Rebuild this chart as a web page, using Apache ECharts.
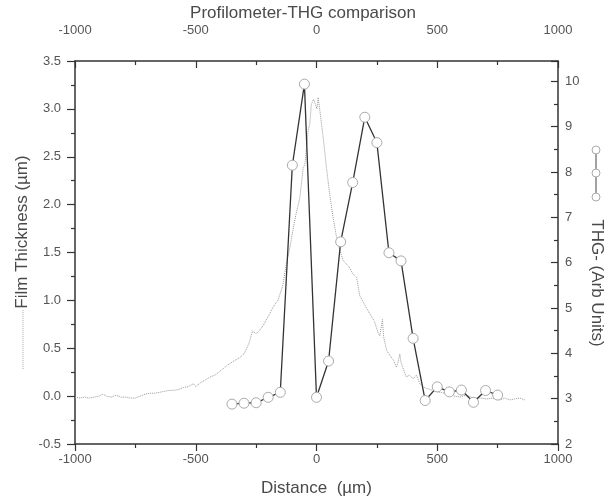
<!DOCTYPE html>
<html>
<head>
<meta charset="utf-8">
<script src="https://cdn.jsdelivr.net/npm/echarts@6/dist/echarts.min.js"></script>
<style>
html,body{margin:0;padding:0;background:#fff;}
#chart{width:606px;height:502px;}
</style>
</head>
<body>
<div id="chart"></div>
<script>
// Profilometer trace (left axis, µm) vs distance (µm)
const profileDistance = [
  -1000,-980,-960,-940,-920,-900,-885,-870,-850,-830,-810,-790,-770,-750,-730,-710,-690,-670,-650,-630,
  -610,-590,-570,-550,-530,-510,-500,-480,-460,-440,-420,-400,-380,-360,-340,-320,-300,-280,-265,-250,
  -235,-220,-200,-180,-160,-140,-125,-110,-98,-85,-69,-55,-48,-35,-28,-21,-12,-5,2,7,
  12,21,30,41,55,69,83,97,110,123,135,150,166,179,190,207,221,240,255,262,
  270,273,278,290,305,320,331,338,345,350,360,372,385,400,414,428,440,455,470,490,
  511,530,550,570,594,620,650,680,704,730,760,780,801,820,842,863
];
const profileThickness = [
  -0.01,-0.02,-0.01,-0.02,-0.01,0.00,0.02,0.00,-0.01,0.01,-0.01,-0.01,-0.02,-0.02,0.00,0.02,0.03,0.03,0.04,0.05,
  0.06,0.06,0.07,0.09,0.10,0.13,0.10,0.14,0.17,0.20,0.22,0.26,0.30,0.34,0.37,0.40,0.44,0.55,0.68,0.65,
  0.69,0.74,0.83,0.93,1.00,1.15,1.38,1.55,1.73,1.90,2.07,2.39,2.42,2.77,2.84,3.05,3.10,3.08,3.00,3.12,
  3.02,2.84,2.65,2.39,2.10,1.86,1.66,1.52,1.42,1.38,1.35,1.28,1.24,1.05,1.00,0.92,0.86,0.78,0.66,0.63,
  0.75,0.80,0.62,0.48,0.42,0.37,0.30,0.36,0.44,0.35,0.28,0.20,0.22,0.18,0.22,0.13,0.10,0.08,0.07,0.05,
  0.04,0.03,0.02,0.00,-0.01,0.01,-0.02,-0.02,-0.03,-0.02,-0.04,-0.02,-0.04,-0.03,-0.02,-0.04
];
// THG signal (right axis, arb units)
const thgDistance = [-350,-300,-250,-200,-150,-100,-50,0,50,100,150,200,250,300,350,400,450,500,550,600,650,700,750];
const thgSignal   = [2.88,2.90,2.91,3.03,3.14,8.15,9.94,3.03,3.83,6.46,7.77,9.21,8.65,6.22,6.04,4.33,2.96,3.26,3.15,3.19,2.92,3.18,3.08];

const titleText = 'Profilometer-THG comparison';
const xName = 'Distance  (\u00b5m)';
const yLeftName = 'Film Thickness (\u00b5m)';
const yRightName = 'THG- (Arb Units)';

const FONT = 'Liberation Sans, Arial, Helvetica, sans-serif';
const AX = '#333';
const TXT = '#555';
const NAME = '#4a4a4a';

const chart = echarts.init(document.getElementById('chart'), null, {renderer: 'canvas'});

const baseX = {
  type: 'value', min: -1000, max: 1000, interval: 500,
  splitLine: {show: false},
  axisLine: {show: true, onZero: false, lineStyle: {color: AX, width: 1.5}},
  minorTick: {show: true, splitNumber: 2, length: 4, lineStyle: {color: AX, width: 1.2}}
};

const option = {
  animation: false,
  backgroundColor: '#fff',
  title: {
    text: titleText, left: 'center', top: 0,
    textStyle: {fontFamily: FONT, fontSize: 17, fontWeight: 'normal', color: NAME}
  },
  grid: {left: 75, right: 48, top: 61, bottom: 55, containLabel: false},
  xAxis: [
    Object.assign({}, baseX, {
      position: 'bottom',
      name: xName, nameLocation: 'middle', nameGap: 36,
      nameTextStyle: {fontFamily: FONT, fontSize: 17, color: NAME},
      axisTick: {show: true, inside: false, length: 7, lineStyle: {color: AX, width: 1.2}},
      axisLabel: {color: TXT, fontFamily: FONT, fontSize: 13, margin: 9, formatter: v => String(v)}
    }),
    Object.assign({}, baseX, {
      position: 'top',
      axisTick: {show: true, inside: true, length: 7, lineStyle: {color: AX, width: 1.2}},
      axisLabel: {color: TXT, fontFamily: FONT, fontSize: 13, margin: 24, formatter: v => String(v)}
    })
  ],
  yAxis: [
    {
      type: 'value', min: -0.5, max: 3.5, interval: 0.5, position: 'left',
      splitLine: {show: false},
      axisLine: {show: true, onZero: false, lineStyle: {color: AX, width: 1.5}},
      axisTick: {show: true, inside: false, length: 8, lineStyle: {color: AX, width: 1.2}},
      minorTick: {show: true, splitNumber: 2, length: 4, lineStyle: {color: AX, width: 1.2}},
      axisLabel: {color: TXT, fontFamily: FONT, fontSize: 13, margin: 14,
        formatter: v => v.toFixed(1)}
    },
    {
      type: 'value', min: 2, max: 10.45, interval: 1, position: 'right',
      splitLine: {show: false},
      axisLine: {show: true, onZero: false, lineStyle: {color: AX, width: 1.5}},
      axisTick: {show: true, inside: true, length: 7, lineStyle: {color: AX, width: 1.2}},
      minorTick: {show: true, splitNumber: 2, length: 4, lineStyle: {color: AX, width: 1.2}},
      axisLabel: {color: TXT, fontFamily: FONT, fontSize: 13, margin: 7,
        formatter: v => (Math.abs(v - Math.round(v)) < 1e-6 ? String(Math.round(v)) : '')}
    }
  ],
  graphic: [
    {type: 'text', x: 22, y: 232, rotation: Math.PI / 2,
      style: {text: yLeftName, fontFamily: FONT, fontSize: 17, fill: NAME, align: 'center', verticalAlign: 'middle'}},
    {type: 'line', shape: {x1: 23, y1: 310, x2: 23, y2: 370},
      style: {stroke: '#aaa', lineWidth: 1, lineDash: [1, 1]}},
    {type: 'text', x: 597, y: 283, rotation: -Math.PI / 2,
      style: {text: yRightName, fontFamily: FONT, fontSize: 17, fill: NAME, align: 'center', verticalAlign: 'middle'}},
    {type: 'line', shape: {x1: 596, y1: 150, x2: 596, y2: 197},
      style: {stroke: '#444', lineWidth: 1}},
    {type: 'circle', shape: {cx: 596, cy: 150, r: 4}, style: {fill: '#fff', stroke: '#aaa', lineWidth: 1}},
    {type: 'circle', shape: {cx: 596, cy: 173, r: 4}, style: {fill: '#fff', stroke: '#aaa', lineWidth: 1}},
    {type: 'circle', shape: {cx: 596, cy: 197, r: 4}, style: {fill: '#fff', stroke: '#aaa', lineWidth: 1}}
  ],
  series: [
    {
      name: 'Profilometer', type: 'line', xAxisIndex: 0, yAxisIndex: 0,
      data: profileDistance.map((d, i) => [d, profileThickness[i]]),
      showSymbol: false, symbol: 'none',
      lineStyle: {color: '#999', width: 1, type: 'dotted'},
      z: 2
    },
    {
      name: 'THG', type: 'line', xAxisIndex: 0, yAxisIndex: 1,
      data: thgDistance.map((d, i) => [d, thgSignal[i]]),
      symbol: 'circle', symbolSize: 10, showAllSymbol: true,
      lineStyle: {color: '#333', width: 1.3},
      itemStyle: {color: '#fff', borderColor: '#aaa', borderWidth: 1},
      z: 3
    }
  ]
};
chart.setOption(option);
</script>
</body>
</html>
